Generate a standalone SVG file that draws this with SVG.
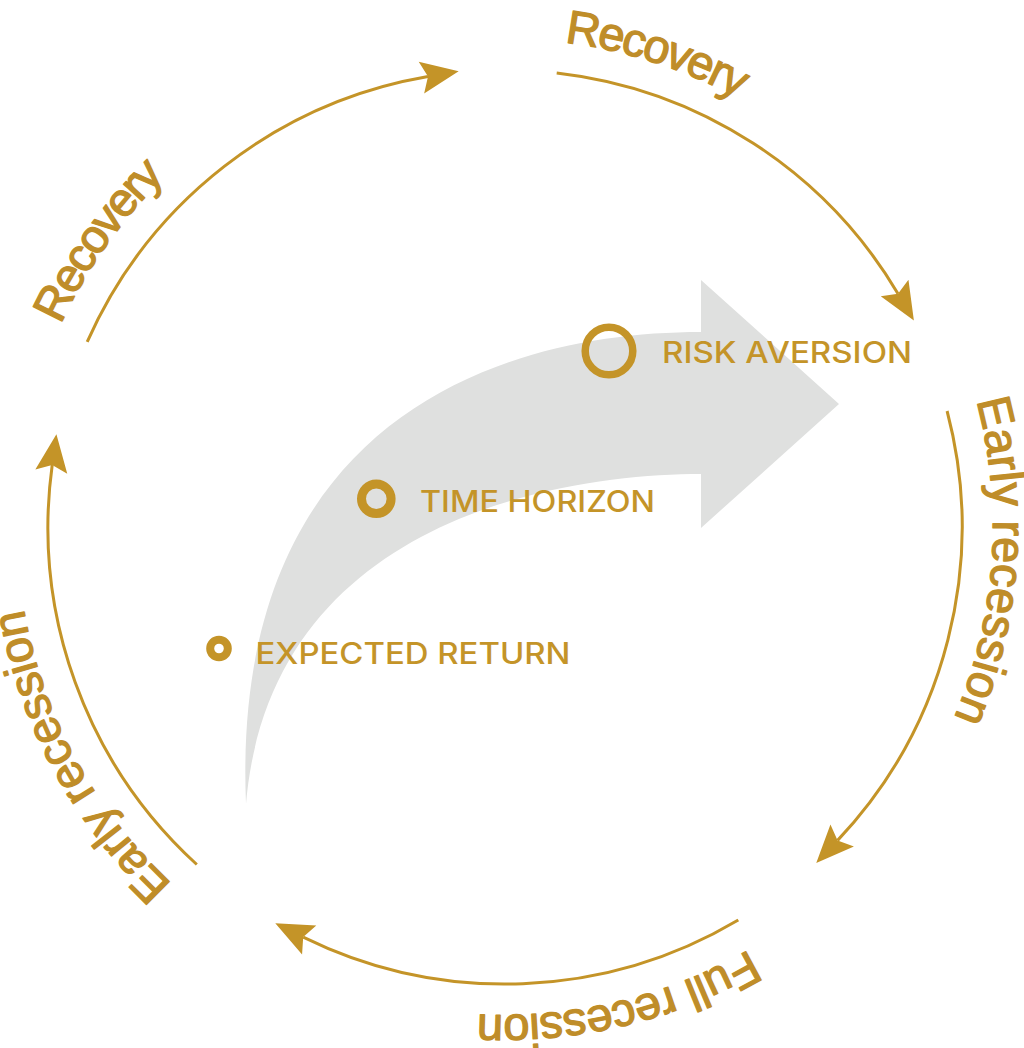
<svg xmlns="http://www.w3.org/2000/svg" width="1024" height="1048" viewBox="0 0 1024 1048">
  <style>
    .arc { fill: none; stroke: #C49428; stroke-width: 3; marker-end: url(#ah); }
    .phase { font-family: "Liberation Sans", Arial, sans-serif; font-size: 47px; fill: #BF8D29; stroke: #BF8D29; stroke-width: 1.3; stroke-linejoin: round; }
    .ring { fill: none; stroke: #C49428; }
    .factor { font-family: Inter, "Noto Sans", sans-serif; font-weight: 500; font-size: 29.5px; fill: #C49428; }
  </style>
  <defs>
    <marker id="ah" markerUnits="userSpaceOnUse" markerWidth="50" markerHeight="50" viewBox="-10 -20 45 40" refX="0" refY="0" orient="auto" overflow="visible">
      <path d="M28,0 L-6,-14.5 L0,0 L-6,14.5 Z" fill="#C49428"/>
    </marker>
    <path id="lp1" d="M60.9,324.6 A488,488 0 0 1 458.2,41.2"/>
    <path id="lp2" d="M564.5,42.6 A488,488 0 0 1 954.2,336.3"/>
    <path id="lp3" d="M976.4,400.7 A488,488 0 0 1 850.1,872.1"/>
    <path id="lp4" d="M749,949.6 A488,488 0 0 1 261,949.6"/>
    <path id="lp5" d="M172.2,883.9 A488,488 0 0 1 29.5,417.2"/>
  </defs>
  <rect width="1024" height="1048" fill="#FFFFFF"/>

  <g id="big-arrow">
    <path d="M701,332 L701,280 L839,404 L701,528 L701,474 C560,474 270,520 246,804 C230,420 500,332 701,332 Z" fill="#DFE0DF"/>
  </g>

  <g id="connectors">
    <path class="arc" d="M87.2,341.9 A457,457 0 0 1 428.0,76.5"/>
    <path class="arc" d="M556.7,72.9 A457,457 0 0 1 898.0,293.7"/>
    <path class="arc" d="M947.1,411.0 A457,457 0 0 1 837.6,840.4"/>
    <path class="arc" d="M738.3,920.0 A457,457 0 0 1 303.2,937.1"/>
    <path class="arc" d="M196.8,864.5 A457,457 0 0 1 52.2,465.0"/>
  </g>

  <g id="phase-recovery-1">
    <text class="phase"><textPath href="#lp1" textLength="182" lengthAdjust="spacing">Recovery</textPath></text>
  </g>
  <g id="phase-recovery-2">
    <text class="phase"><textPath href="#lp2" textLength="184" lengthAdjust="spacing">Recovery</textPath></text>
  </g>
  <g id="phase-early-recession-1">
    <text class="phase"><textPath href="#lp3" textLength="324" lengthAdjust="spacing">Early recession</textPath></text>
  </g>
  <g id="phase-full-recession">
    <text class="phase"><textPath href="#lp4" textLength="283" lengthAdjust="spacing">Full recession</textPath></text>
  </g>
  <g id="phase-early-recession-2">
    <text class="phase"><textPath href="#lp5" textLength="318" lengthAdjust="spacing">Early recession</textPath></text>
  </g>

  <g id="factor-risk-aversion">
    <circle class="ring" cx="609" cy="351" r="23.8" stroke-width="7.5"/>
    <text class="factor" x="662" y="363.3" textLength="250" lengthAdjust="spacingAndGlyphs">RISK AVERSION</text>
  </g>
  <g id="factor-time-horizon">
    <circle class="ring" cx="376.3" cy="498.8" r="14.8" stroke-width="9"/>
    <text class="factor" x="420" y="512.3" textLength="235" lengthAdjust="spacingAndGlyphs">TIME HORIZON</text>
  </g>
  <g id="factor-expected-return">
    <circle class="ring" cx="219" cy="648.5" r="8.8" stroke-width="8"/>
    <text class="factor" x="255.5" y="664" textLength="315" lengthAdjust="spacingAndGlyphs">EXPECTED RETURN</text>
  </g>
</svg>
